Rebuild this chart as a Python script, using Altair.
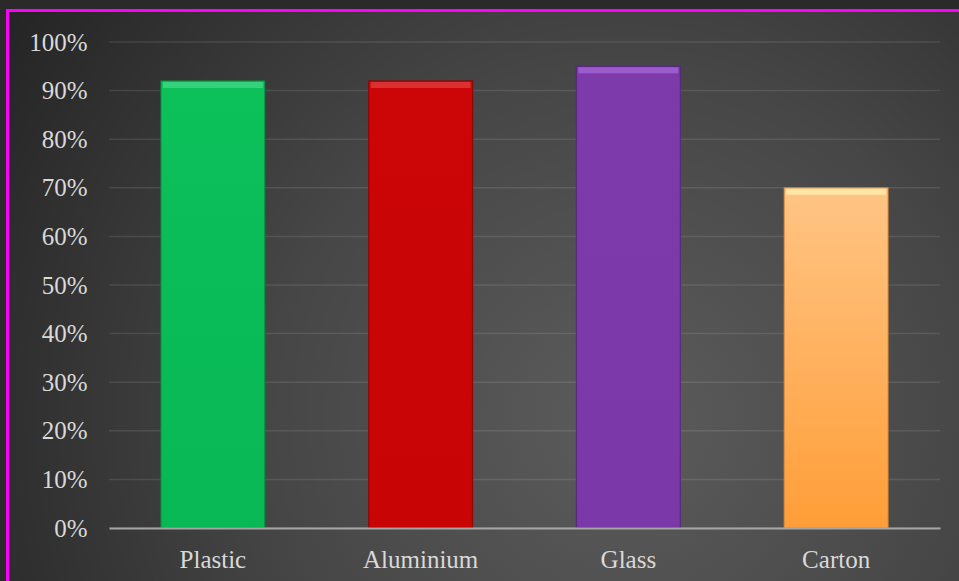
import altair as alt
import pandas as pd

categories = ["Plastic", "Aluminium", "Glass", "Carton"]
values = [0.92, 0.92, 0.95, 0.70]
tick_values = [0.0, 0.1, 0.2, 0.3, 0.4, 0.5, 0.6, 0.7, 0.8, 0.9, 1.0]

bar_fills = [
    {"gradient": "linear", "x1": 0, "y1": 0, "x2": 0, "y2": 1,
     "stops": [{"offset": 0, "color": "#0CC05A"}, {"offset": 1, "color": "#08B855"}]},
    {"gradient": "linear", "x1": 0, "y1": 0, "x2": 0, "y2": 1,
     "stops": [{"offset": 0, "color": "#CC0606"}, {"offset": 1, "color": "#C80404"}]},
    {"gradient": "linear", "x1": 0, "y1": 0, "x2": 0, "y2": 1,
     "stops": [{"offset": 0, "color": "#7C3AAA"}, {"offset": 1, "color": "#7A38A8"}]},
    {"gradient": "linear", "x1": 0, "y1": 0, "x2": 0, "y2": 1,
     "stops": [{"offset": 0, "color": "#FFC585"}, {"offset": 1, "color": "#FF9E38"}]},
]
bar_strokes = ["#078A3F", "#8E0000", "#55237A", "#D98A3A"]
highlight_colors = ["#3FD682", "#E03A3A", "#A365D6", "#FFEFB0"]

df = pd.DataFrame({"cat": categories, "val": values})
grid_df = pd.DataFrame({"t": tick_values})

FONT = "Liberation Serif"
FS = 25
W, H = 831, 486

x_enc = alt.X("cat:N", sort=categories,
              scale=alt.Scale(paddingInner=0.5, paddingOuter=0.25),
              axis=alt.Axis(title=None, labelAngle=0, labelFont=FONT, labelFontSize=FS,
                            labelColor="#D9D9D9", labelPadding=19, ticks=False,
                            domain=True, domainColor="#A6A6A6", domainWidth=2,
                            grid=False, zindex=1))
y_scale = alt.Scale(domain=[0, 1], nice=False)
y_axis = alt.Axis(title=None, format="%", values=tick_values, labelFont=FONT,
                  labelFontSize=FS, labelColor="#D9D9D9", labelPadding=22,
                  ticks=False, domain=False, grid=False, zindex=1)

background = alt.Chart(grid_df).mark_rect(
    fill={"gradient": "radial", "x1": 0.5, "y1": 0.5, "x2": 0.5, "y2": 0.5,
          "r1": 0, "r2": 0.72,
          "stops": [{"offset": 0, "color": "#5C5C5C"},
                    {"offset": 0.4, "color": "#464646"},
                    {"offset": 1, "color": "#171717"}]},
    stroke="#FF00FF", strokeWidth=3, clip=False
).encode(
    x=alt.value(-101.5), x2=alt.value(W + 300),
    y=alt.value(-31.5), y2=alt.value(H + 300)
).transform_filter(alt.datum.t == 0)

grid = alt.Chart(grid_df).mark_rule(color="#FFFFFF", opacity=0.1, strokeWidth=1.5).encode(
    y=alt.Y("t:Q", scale=y_scale, axis=y_axis),
    x=alt.value(0), x2=alt.value(W)
)

layers = [background, grid]
for i, c in enumerate(categories):
    base = alt.Chart(df).transform_filter(alt.datum.cat == c)
    bar = base.mark_bar(fill=bar_fills[i], stroke=bar_strokes[i], strokeWidth=1.2,
                        strokeOpacity=0.8).encode(
        x=x_enc, y=alt.Y("val:Q", scale=y_scale, axis=y_axis))
    hl = base.mark_tick(color=highlight_colors[i], thickness=6, size=100,
                        opacity=0.8, yOffset=4).encode(
        x=x_enc, y=alt.Y("val:Q", scale=y_scale, axis=y_axis))
    layers += [bar, hl]

chart = alt.layer(*layers).properties(
    width=W, height=H,
    autosize=alt.AutoSizeParams(type="none"),
    padding={"left": 109, "top": 42, "right": 19, "bottom": 53},
    background="#2A2A2A"
).configure_view(stroke=None)

chart.save("out.html", embed_options={"renderer": "svg", "actions": False})
